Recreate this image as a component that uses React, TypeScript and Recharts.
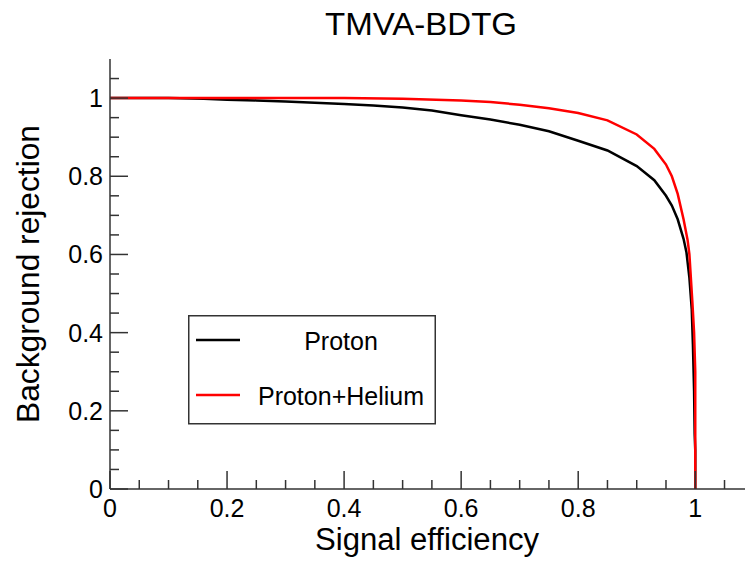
import React from 'react';
import { LineChart, Line, XAxis, YAxis, Legend, Label } from 'recharts';

// Proton (black) ROC curve
const protonEff = [0, 0.1, 0.16, 0.2, 0.25, 0.3, 0.35, 0.4, 0.45, 0.5, 0.55, 0.6, 0.65, 0.7, 0.75, 0.8, 0.85, 0.9, 0.93, 0.95, 0.96, 0.97, 0.98, 0.985, 0.99, 0.994, 0.996, 0.998, 0.999, 1.0, 1.0];
const protonRej = [1.0, 1.0, 0.998, 0.996, 0.994, 0.991, 0.988, 0.985, 0.981, 0.976, 0.968, 0.956, 0.945, 0.932, 0.915, 0.891, 0.866, 0.826, 0.79, 0.75, 0.725, 0.69, 0.64, 0.605, 0.54, 0.46, 0.37, 0.25, 0.14, 0.1, 0];

// Proton+Helium (red) ROC curve
const heliumEff = [0, 0.4, 0.5, 0.6, 0.65, 0.7, 0.75, 0.8, 0.85, 0.9, 0.93, 0.95, 0.96, 0.97, 0.98, 0.987, 0.99, 0.995, 0.998, 1.0, 1.0];
const heliumRej = [1.0, 1.0, 0.998, 0.994, 0.99, 0.983, 0.974, 0.962, 0.943, 0.907, 0.87, 0.83, 0.8, 0.755, 0.69, 0.636, 0.6, 0.48, 0.4, 0.3, 0];

const xTicks = [0, 0.05, 0.1, 0.15, 0.2, 0.25, 0.3, 0.35, 0.4, 0.45, 0.5, 0.55, 0.6, 0.65, 0.7, 0.75, 0.8, 0.85, 0.9, 0.95, 1.0, 1.05];
const yTicks = [0, 0.05, 0.1, 0.15, 0.2, 0.25, 0.3, 0.35, 0.4, 0.45, 0.5, 0.55, 0.6, 0.65, 0.7, 0.75, 0.8, 0.85, 0.9, 0.95, 1.0, 1.05];

const seriesNames = ['Proton', 'Proton+Helium'];
const seriesColors = ['#000000', '#ff0000'];

const protonData = protonEff.map((x, i) => ({ x, y: protonRej[i] }));
const heliumData = heliumEff.map((x, i) => ({ x, y: heliumRej[i] }));

const FONT = '"Liberation Sans", Arial, Helvetica, sans-serif';
const AXIS = '#333333';

const isMajor = (v: number) => Math.abs(v * 5 - Math.round(v * 5)) < 1e-6;
const fmt = (v: number) => (Math.abs(v - Math.round(v)) < 1e-6 ? String(Math.round(v)) : String(Math.round(v * 10) / 10));

const XTick = (props: any) => {
  const { x, y, payload } = props;
  const major = isMajor(payload.value);
  return (
    <g>
      <line x1={x} x2={x} y1={y} y2={y - (major ? 18 : 9)} stroke={AXIS} strokeWidth={1.5} />
      {major && (
        <text x={x} y={y + 28} textAnchor="middle" fontSize={25} fontFamily={FONT} fill="#000">
          {fmt(payload.value)}
        </text>
      )}
    </g>
  );
};

const YTick = (props: any) => {
  const { x, y, payload } = props;
  const major = isMajor(payload.value);
  return (
    <g>
      <line x1={x} x2={x + (major ? 18 : 9)} y1={y} y2={y} stroke={AXIS} strokeWidth={1.5} />
      {major && (
        <text x={x - 7} y={y} dy="0.36em" textAnchor="end" fontSize={25} fontFamily={FONT} fill="#000">
          {fmt(payload.value)}
        </text>
      )}
    </g>
  );
};

const LegendBox = () => (
  <svg width={248} height={110} style={{ display: 'block' }}>
    <rect x={0.75} y={0.75} width={246.5} height={108} fill="#fff" stroke={AXIS} strokeWidth={1.5} />
    {seriesNames.map((name, i) => (
      <g key={name}>
        <line x1={8} x2={52} y1={25 + i * 55} y2={25 + i * 55} stroke={seriesColors[i]} strokeWidth={2.5} />
        <text x={153} y={35 + i * 55} textAnchor="middle" fontSize={25} fontFamily={FONT} fill="#000">
          {name}
        </text>
      </g>
    ))}
  </svg>
);

export default function App() {
  return (
    <div style={{ position: 'absolute', left: 0, top: 0, width: 745, height: 562, overflow: 'hidden', background: '#fff' }}>
      <LineChart width={745} height={562} margin={{ top: 59, right: 0, bottom: 0, left: 0 }}>
        <XAxis
          xAxisId="top"
          orientation="top"
          dataKey="x"
          type="number"
          domain={[0, 1.085]}
          allowDataOverflow
          height={0}
          tick={false}
          tickLine={false}
          axisLine={{ stroke: AXIS, strokeWidth: 1.5 }}
        />
        <XAxis
          dataKey="x"
          type="number"
          domain={[0, 1.085]}
          allowDataOverflow
          ticks={xTicks}
          interval={0}
          height={73}
          tickSize={0}
          tickMargin={0}
          tickLine={false}
          tick={<XTick />}
          axisLine={{ stroke: AXIS, strokeWidth: 1.5 }}
        >
          <Label
            content={() => (
              <text x={427} y={550} textAnchor="middle" fontSize={31} fontFamily={FONT} fill="#000" textLength={224} lengthAdjust="spacingAndGlyphs">
                Signal efficiency
              </text>
            )}
          />
          <Label
            content={() => (
              <text x={421} y={35} textAnchor="middle" fontSize={32} fontFamily={FONT} fill="#000" textLength={192} lengthAdjust="spacingAndGlyphs">
                TMVA-BDTG
              </text>
            )}
          />
        </XAxis>
        <YAxis
          type="number"
          domain={[0, 1.1]}
          allowDataOverflow
          ticks={yTicks}
          interval={0}
          width={110}
          tickSize={0}
          tickMargin={0}
          tickLine={false}
          tick={<YTick />}
          axisLine={{ stroke: AXIS, strokeWidth: 1.5 }}
        >
          <Label
            content={() => (
              <text x={39} y={274} transform="rotate(-90 39 274)" textAnchor="middle" fontSize={32} fontFamily={FONT} fill="#000" textLength={298} lengthAdjust="spacingAndGlyphs">
                Background rejection
              </text>
            )}
          />
        </YAxis>
        <Legend
          layout="horizontal"
          verticalAlign="middle"
          align="center"
          wrapperStyle={{ left: 188, top: 315, width: 248, height: 110 }}
          content={() => <LegendBox />}
        />
        <Line
          data={protonData}
          dataKey="y"
          name={seriesNames[0]}
          stroke={seriesColors[0]}
          strokeWidth={2.5}
          dot={false}
          activeDot={false}
          type="linear"
          isAnimationActive={false}
        />
        <Line
          data={heliumData}
          dataKey="y"
          name={seriesNames[1]}
          stroke={seriesColors[1]}
          strokeWidth={2.5}
          dot={false}
          activeDot={false}
          type="linear"
          isAnimationActive={false}
        />
      </LineChart>
    </div>
  );
}
